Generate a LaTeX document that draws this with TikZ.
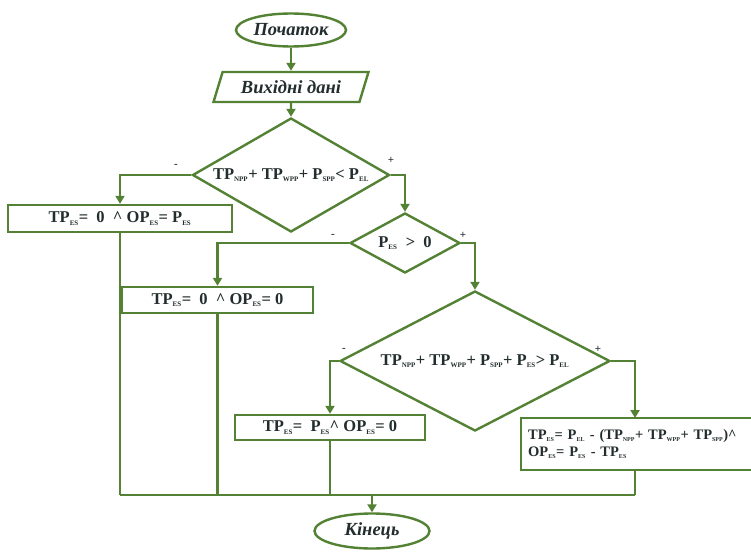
\documentclass[tikz,border=0pt]{standalone}
\usepackage{fontspec}
\setmainfont{Liberation Serif}
\usetikzlibrary{shapes.geometric,arrows.meta}
\definecolor{fg}{RGB}{84,130,53}
\definecolor{tx}{RGB}{35,45,45}
\newcommand\sbx[1]{\textsubscript{\fontsize{7}{7}\selectfont #1}}
\newcommand\sbs[1]{\textsubscript{\fontsize{6}{6}\selectfont #1}}
\begin{document}
\begin{tikzpicture}[x=1pt,y=-1pt,
  ln/.style={draw=fg, line width=2.4pt},
  arr/.style={ln, -{Triangle[width=9pt,length=8pt]}},
  term/.style={ellipse, ln, inner sep=0pt, text=tx, font=\bfseries\itshape\fontsize{18.5}{20}\selectfont},
  io/.style={trapezium, trapezium left angle=63, trapezium right angle=117, ln, inner sep=0pt, trapezium stretches=true, text=tx, font=\bfseries\itshape\fontsize{18.5}{20}\selectfont},
  dec/.style={diamond, ln, inner sep=0pt, text=tx, font=\bfseries\fontsize{16.5}{18}\selectfont},
  proc/.style={rectangle, ln, inner sep=0pt, text=tx, font=\bfseries\fontsize{16.5}{18}\selectfont},
  sgn/.style={text=tx, font=\bfseries\fontsize{11}{11}\selectfont, inner sep=0pt}]
\useasboundingbox (0,0) rectangle (751,559);
\fill[white] (0,0) rectangle (751,559);

\node[term, minimum width=110pt, minimum height=33pt] (start) at (291,30) {Початок};
\node[io, minimum width=155pt, minimum height=30pt] (in) at (291,87) {Вихідні дані};
\node[dec, shape aspect=1.73, minimum width=197pt, minimum height=114pt] (d1) at (291,175)
  {TP\sbx{NPP}+ TP\sbx{WPP}+ P\sbx{SPP}< P\sbx{EL}};
\node[proc, minimum width=224pt, minimum height=27pt] (b1) at (120,218.5)
  {TP\sbx{ES}=\ \ 0\ \ \textasciicircum\ OP\sbx{ES}= P\sbx{ES}};
\node[dec, shape aspect=1.83, minimum width=110pt, minimum height=60pt] (d2) at (405,243)
  {P\sbx{ES}\ \ >\ \ 0};
\node[proc, minimum width=191pt, minimum height=26pt] (b2) at (217.5,300)
  {TP\sbx{ES}=\ \ 0\ \ \textasciicircum\ OP\sbx{ES}= 0};
\node[dec, shape aspect=1.93, minimum width=270pt, minimum height=140pt] (d3) at (475,361)
  {TP\sbx{NPP}+ TP\sbx{WPP}+ P\sbx{SPP}+ P\sbx{ES}> P\sbx{EL}};
\node[proc, minimum width=190pt, minimum height=25pt] (b3) at (330,427.5)
  {TP\sbx{ES}=\ \ P\sbx{ES}\textasciicircum\ OP\sbx{ES}= 0};
\node[proc, anchor=west, minimum height=52pt, text width=290pt, inner xsep=7pt, align=left,
  font=\bfseries\fontsize{14.5}{17}\selectfont] (b4) at (520,444)
  {TP\sbs{ES}= P\sbs{EL} - (TP\sbs{NPP}+ TP\sbs{WPP}+ TP\sbs{SPP})\textasciicircum\\OP\sbs{ES}= P\sbs{ES} - TP\sbs{ES}};
\node[term, minimum width=115pt, minimum height=35pt] (end) at (372,531) {Кінець};

\coordinate (bot) at (372,495);
\coordinate (c4) at (635,418);

\draw[arr] (start) -- (in);
\draw[arr] (in) -- (d1);
\draw[arr] (d1.west) -| (b1.north);
\draw[arr] (d1.east) -| (d2.north);
\draw[arr] (d2.west) -| (b2.north);
\draw[arr] (d2.east) -| (d3.north);
\draw[arr] (d3.west) -| (b3.north);
\draw[arr] (d3.east) -| (c4);

\draw[ln] (b1.south) -- (b1.south |- bot);
\draw[ln] (b2.south) -- (b2.south |- bot);
\draw[ln] (b3.south) -- (b3.south |- bot);
\draw[ln] (c4 |- b4.south) -- (c4 |- bot);
\draw[ln] (b1.south |- bot) -- (c4 |- bot);
\draw[arr] (bot) -- (end.north);

\node[sgn] (s1) at (176,166) {-};
\node[sgn] (s2) at (391,160) {+};
\node[sgn] (s3) at (333,236) {-};
\node[sgn] (s4) at (463,235) {+};
\node[sgn] (s5) at (344,350) {-};
\node[sgn] (s6) at (598,349) {+};
\end{tikzpicture}
\end{document}
